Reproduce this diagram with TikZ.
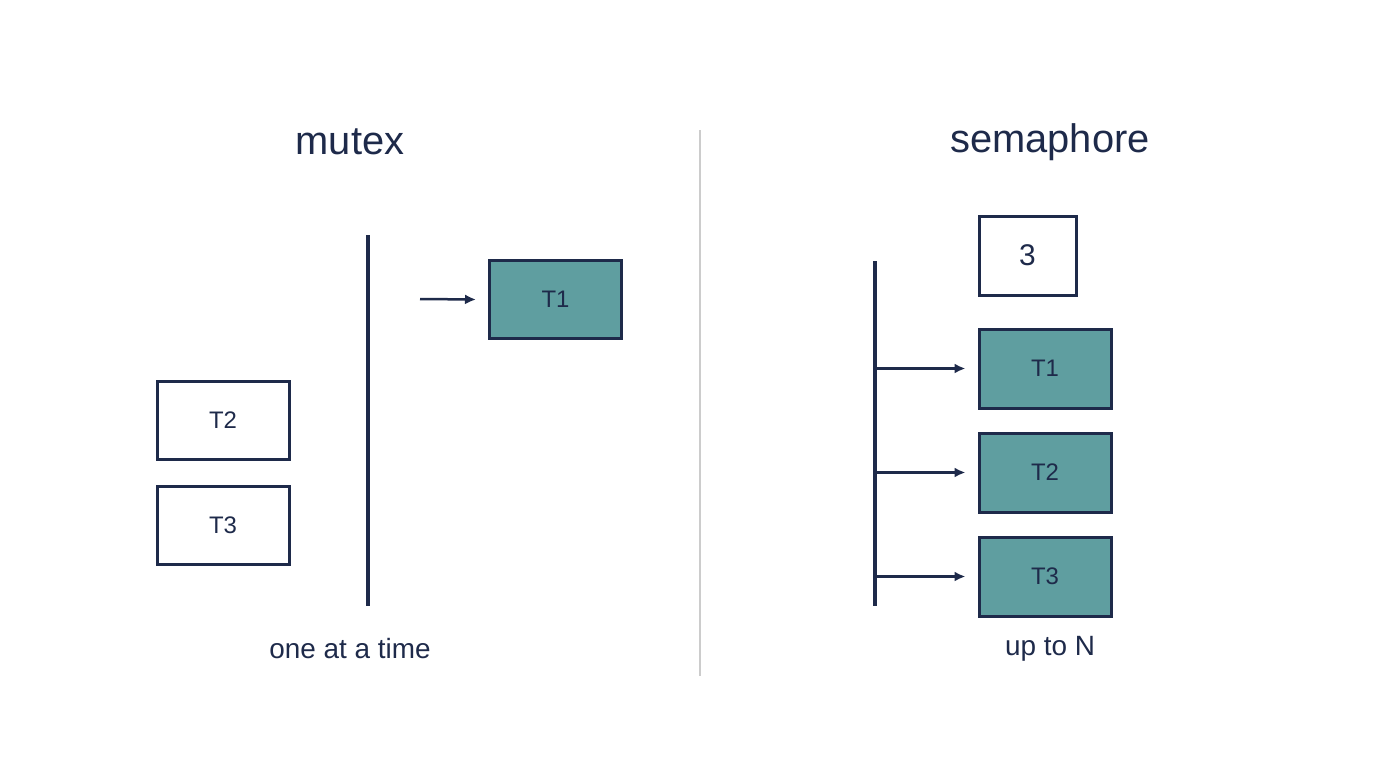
\documentclass[tikz,border=0pt]{standalone}
\usepackage{fontspec}
\setmainfont{Liberation Sans}
\usetikzlibrary{arrows.meta}
\definecolor{navy}{HTML}{1E2A4A}
\definecolor{teal}{HTML}{5F9EA0}
\begin{document}
\begin{tikzpicture}[x=1bp,y=-1bp,
  box/.style={draw=navy,line width=3bp,fill=white,text=navy,font=\fontsize{24}{28}\selectfont,inner sep=0pt},
  on/.style={box,fill=teal},
  arr/.style={navy,line width=2.5bp,-{Latex[length=11bp,width=10bp]}},
  bar/.style={navy,line width=4bp},
  ttl/.style={text=navy,font=\fontsize{40}{46}\selectfont},
  lbl/.style={text=navy,font=\fontsize{28}{32}\selectfont}]
\useasboundingbox (0,0) rectangle (1400,781);
\node[ttl] (mt) at (350,142) {mutex};
\node[ttl] (st) at (1050,142) {semaphore};
\coordinate (d1) at (700,130); \coordinate (d2) at (700,676);
\draw[black!20,line width=2bp] (d1) -- (d2);
% mutex
\coordinate (m1) at (368,235); \coordinate (m2) at (368,606);
\draw[bar] (m1) -- (m2);
\node[on,minimum width=132bp,minimum height=78bp] (mT1) at (555.5,299.5) {T1};
\coordinate (ma) at (420,299);
\draw[arr] (ma) -- ([xshift=-12bp]mT1.west);
\node[box,minimum width=132bp,minimum height=78bp] (mT2) at (223,420.5) {T2};
\node[box,minimum width=132bp,minimum height=78bp] (mT3) at (223,525) {T3};
\node[lbl] (ma1) at (350,649) {one at a time};
% semaphore
\coordinate (s1) at (875,261); \coordinate (s2) at (875,606);
\draw[bar] (s1) -- (s2);
\node[box,minimum width=97bp,minimum height=79bp,font=\fontsize{30}{34}\selectfont] (cnt) at (1027.5,255.5) {3};
\foreach \n/\y in {1/368.5,2/472.5,3/576.5}{
  \node[on,minimum width=132bp,minimum height=79bp] (sT\n) at (1045,\y) {T\n};
  \coordinate (b\n) at (875,\y);
  \draw[arr] (b\n) -- ([xshift=-12bp]sT\n.west);
}
\node[lbl] (un) at (1050,649) {up to N};
\end{tikzpicture}
\end{document}
